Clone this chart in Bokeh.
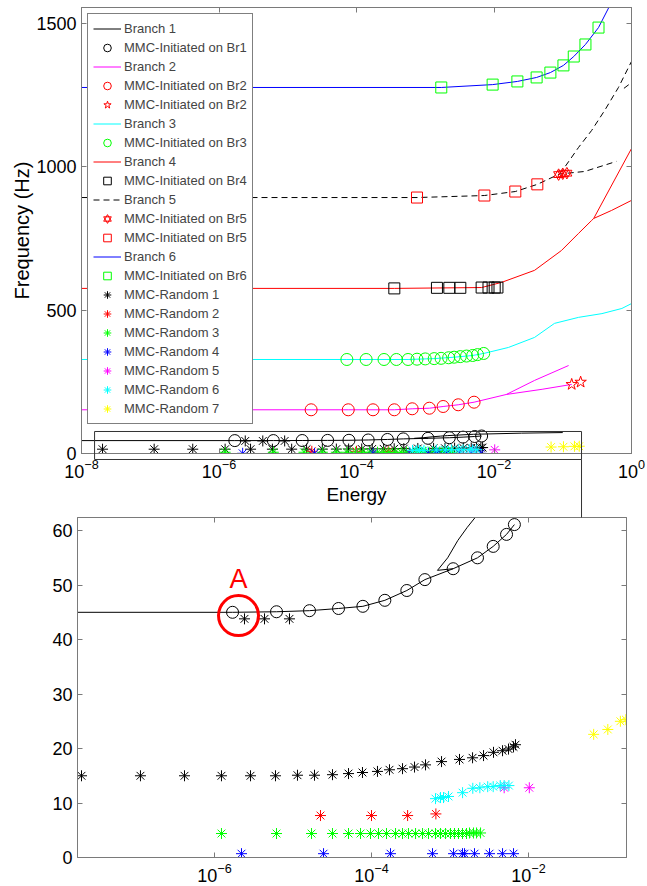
import math
from bokeh.plotting import figure
from bokeh.models import (LogAxis, LinearAxis, FixedTicker, Legend, LegendItem, Label, Range1d)
from bokeh.embed import file_html
from bokeh.resources import INLINE

NAN = float("nan")
FONT = "Liberation Sans"
AX = "#7a7a7a"

# ---------------- data (log10 of energy, frequency in Hz) ----------------
# Branch 1 (45 Hz branch) and its MMC-initiated points
br1_line_logE = [-8.0, -5.77, -5.21, -4.79, -4.42, -4.11, -3.83, -3.55, -3.32, -2.96, -2.65, -2.45, -2.28, -2.18,
                 NAN, -2.96, -3.16, -3.03, -2.90, -2.78, -2.68, -2.30, -1.60, -1.00]
br1_line_f = [45.0, 45.0, 45.1, 45.3, 45.7, 46.1, 47.2, 49.0, 51.0, 53.0, 55.0, 57.1, 59.3, 61.1,
              NAN, 53.0, 52.7, 55.0, 58.2, 60.6, 62.4, 67.0, 71.0, 73.0]
br1_pts_logE = [-5.77, -5.21, -4.79, -4.42, -4.11, -3.83, -3.55, -3.32, -2.96, -2.65, -2.45, -2.28, -2.18]
br1_pts_f = [45.0, 45.1, 45.3, 45.7, 46.1, 47.2, 49.0, 51.0, 53.0, 55.0, 57.1, 59.3, 61.1]

# Branch 2
br2_line_logE = [-8.0, -4.66, -4.12, -3.76, -3.45, -3.19, -2.94, -2.74, -2.52, -2.29, -1.82, -1.41, -0.915,
                 NAN, -1.82, -1.30, -0.87]
br2_line_f = [152.5, 152.5, 152.5, 152.5, 152.5, 156, 158, 164, 170, 179, 206, 255, 307,
              NAN, 206, 224, 241]
br2_circ_logE = [-4.66, -4.12, -3.76, -3.45, -3.19, -2.94, -2.74, -2.52, -2.29]
br2_circ_f = [152.5, 152.5, 152.5, 152.5, 156, 158, 164, 170, 179]
br2_star_logE = [-0.87, -0.74]
br2_star_f = [241, 249]

# Branch 3
br3_circ_logE = [-4.14, -3.86, -3.60, -3.42, -3.25, -3.12, -3.00, -2.87, -2.77, -2.66, -2.58, -2.49,
                 -2.40, -2.31, -2.24, -2.15]
br3_circ_f = [328, 328, 328, 328, 328, 329, 330, 331, 332, 334, 336, 338, 340, 342, 345, 349]
br3_line_logE = [-8.0, -4.14, -3.25, -2.87, -2.58, -2.31, -2.15, -1.79, -1.41, -1.12, -0.77, -0.43, -0.14, 0.0]
br3_line_f = [328, 328, 328, 331, 336, 342, 349, 370, 405, 454, 475, 488, 506, 523]

# Branch 4
br4_line_logE = [-8.0, -3.45, -2.18, -1.89, -1.41, -1.02, -0.77, -0.58, -0.55, 0.0, NAN, -0.55, -0.29, 0.0]
br4_line_f = [576, 576, 579, 597, 639, 708, 768, 813, 820, 1064, NAN, 820, 848, 883]
br4_sq_logE = [-3.45, -2.83, -2.65, -2.49, -2.18, -2.08, -1.99, -1.95]
br4_sq_f = [576, 578, 578, 578, 579, 579, 579, 579]

# Branch 5 (dashed)
br5_line_logE = [-8.0, -3.12, -2.14, -1.69, -1.37, -1.05, -0.68, -0.22,
                 NAN, -1.05, -0.974, -0.77, -0.58, -0.39, -0.19, 0.0, NAN, -0.11, 0.0]
br5_line_f = [893, 893, 900, 914, 939, 975, 984, 1019,
              NAN, 975, 998, 1068, 1127, 1197, 1277, 1368, NAN, 1274, 1294]
br5_hex_logE = [-1.06, -1.00, -0.94]
br5_hex_f = [973, 976, 978]
br5_sq_logE = [-3.12, -2.14, -1.69, -1.37]
br5_sq_f = [893, 900, 914, 939]

# Branch 6
br6_sq_logE = [-2.767, -2.02, -1.66, -1.38, -1.18, -0.99, -0.84, -0.67, -0.48]
br6_sq_f = [1277, 1287, 1298, 1312, 1329, 1354, 1385, 1427, 1486]
br6_line_logE = [-8.0, -2.767, -2.02, -1.66, -1.38, -1.18, -0.99, -0.84, -0.67, -0.48, -0.30]
br6_line_f = [1277, 1277, 1287, 1298, 1312, 1329, 1354, 1385, 1427, 1486, 1570]

# MMC random runs
r1_logE = [-7.694, -6.943, -6.382, -5.911, -5.541, -5.223, -4.943, -4.726, -4.497, -4.293, -4.115, -3.924,
           -3.771, -3.605, -3.452, -3.312, -3.108, -2.879, -2.713, -2.573, -2.446, -2.331, -2.255, -2.191,
           -2.166, -5.618, -5.363, -5.045]
r1_f = [15.0, 15.0, 15.0, 15.0, 15.0, 15.0, 15.1, 15.1, 15.2, 15.4, 15.6, 15.8, 16.1, 16.3, 16.6, 17.0,
        17.6, 18.0, 18.3, 18.7, 19.3, 19.6, 19.9, 20.3, 20.7, 43.8, 43.8, 43.8]
r2_logE = [-4.65, -4.00, -3.54, -3.18]
r2_f = [7.7, 7.7, 7.7, 8.0]
r3_logE = [-5.911, -5.21, -4.764, -4.497, -4.293, -4.14, -4.013, -3.911, -3.809, -3.694, -3.605, -3.529,
           -3.439, -3.35, -3.274, -3.185, -3.121, -3.057, -2.994, -2.943, -2.892, -2.841, -2.79, -2.752,
           -2.701, -2.662, -2.611]
r3_f = [4.4, 4.4, 4.4, 4.4, 4.4, 4.4, 4.4, 4.4, 4.4, 4.4, 4.4, 4.4, 4.4, 4.4, 4.4, 4.4, 4.4, 4.4,
        4.4, 4.4, 4.4, 4.4, 4.4, 4.5, 4.5, 4.5, 4.5]
r4_logE = [-5.656, -4.611, -3.758, -3.223, -2.955, -2.841, -2.815, -2.688, -2.497, -2.331, -2.191]
r4_f = [0.7, 0.7, 0.7, 0.7, 0.7, 0.7, 0.7, 0.7, 0.7, 0.7, 0.7]
r5_logE = [-2.31, -1.99]
r5_f = [12.8, 12.8]
r6_logE = [-3.185, -3.121, -3.083, -3.019, -2.84, -2.71, -2.62, -2.52, -2.45, -2.36, -2.31, -2.25]
r6_f = [10.8, 11.0, 11.0, 11.2, 11.9, 12.7, 12.8, 13.0, 13.0, 13.2, 13.2, 13.2]
r7_logE = [-1.17, -0.99, -0.83, -0.76]
r7_f = [22.6, 23.5, 25.0, 25.3]

# axes
main_xticks = [1e-8, 1e-6, 1e-4, 1e-2, 1.0]
main_yticks = [0, 500, 1000, 1500]
main_logx = (-8.0, 0.0)
main_yrange = (0, 1556)
inset_xticks = [1e-6, 1e-4, 1e-2]
inset_yticks = [0, 10, 20, 30, 40, 50, 60]
inset_logx = (-7.745, -0.752)
inset_yrange = (0, 62.4)
zoom_box_logE = (-7.81, -0.727)
zoom_box_f = (-20.9, 76.8)

# page geometry
W = 647
H1, H2 = 517, 369
B1 = dict(left=81, right=16, top=7, bottom=64)
B2 = dict(left=77, right=21, top=0, bottom=29)


def E(lst):
    return [10 ** v if v == v else NAN for v in lst]


def style_axis(ax, labels=True):
    ax.axis_line_color = AX
    ax.major_tick_line_color = AX
    ax.major_tick_in = 5
    ax.major_tick_out = 0
    ax.minor_tick_line_color = None
    ax.major_label_text_font = FONT
    ax.major_label_text_color = "black"
    if labels:
        ax.major_label_text_font_size = "18px"
        ax.major_label_standoff = 5
    else:
        ax.major_label_text_font_size = "1px"
        ax.major_label_text_alpha = 0
        ax.major_label_standoff = 0
    ax.axis_label_text_font = FONT
    ax.axis_label_text_font_size = "19px"
    ax.axis_label_text_font_style = "normal"
    ax.axis_label_text_color = "black"


BLACK, RED, GREEN, BLUE, MAG, CYAN, YEL = "#000000", "#FF0000", "#00FF00", "#0000FF", "#FF00FF", "#00FFFF", "#FFFF00"

# ---------------- main figure ----------------
p1 = figure(width=W, height=H1, x_axis_type="log",
            x_range=Range1d(10 ** main_logx[0], 10 ** main_logx[1]), y_range=Range1d(*main_yrange),
            output_backend="svg", toolbar_location=None,
            min_border_left=B1["left"], min_border_right=B1["right"],
            min_border_top=B1["top"], min_border_bottom=B1["bottom"])
p1.styles = {"position": "absolute", "left": "0px", "top": "0px"}
p1.grid.visible = False
p1.outline_line_color = AX
p1.xaxis.axis_label = "Energy"
p1.yaxis.axis_label = "Frequency (Hz)"
p1.xaxis.ticker = FixedTicker(ticks=main_xticks)
p1.yaxis.ticker = FixedTicker(ticks=main_yticks)
style_axis(p1.xaxis[0])
style_axis(p1.yaxis[0])
p1.xaxis.axis_label_standoff = 3
p1.yaxis.axis_label_standoff = 0
p1.yaxis.axis_label_text_font_size = "20px"
ta = LogAxis(ticker=FixedTicker(ticks=main_xticks))
style_axis(ta, labels=False)
p1.add_layout(ta, "above")
ra = LinearAxis(ticker=FixedTicker(ticks=main_yticks))
style_axis(ra, labels=False)
p1.add_layout(ra, "right")

LW = 1
l1 = p1.line(E(br1_line_logE), br1_line_f, color=BLACK, line_width=LW)
m1 = p1.scatter(E(br1_pts_logE), br1_pts_f, marker="circle", size=12, fill_color=None, line_color=BLACK)
l2 = p1.line(E(br2_line_logE), br2_line_f, color=MAG, line_width=LW)
m2a = p1.scatter(E(br2_circ_logE), br2_circ_f, marker="circle", size=12, fill_color=None, line_color=RED)
m2b = p1.scatter(E(br2_star_logE), br2_star_f, marker="star", size=12, fill_color=None, line_color=RED)
l3 = p1.line(E(br3_line_logE), br3_line_f, color=CYAN, line_width=LW)
m3 = p1.scatter(E(br3_circ_logE), br3_circ_f, marker="circle", size=12, fill_color=None, line_color=GREEN)
l4 = p1.line(E(br4_line_logE), br4_line_f, color=RED, line_width=LW)
m4 = p1.scatter(E(br4_sq_logE), br4_sq_f, marker="square", size=11, fill_color=None, line_color=BLACK)
l5 = p1.line(E(br5_line_logE), br5_line_f, color=BLACK, line_width=LW, line_dash="6 4")
m5a1 = p1.scatter(E(br5_hex_logE), br5_hex_f, marker="triangle", size=10, fill_color=None, line_color=RED)
m5a2 = p1.scatter(E(br5_hex_logE), br5_hex_f, marker="inverted_triangle", size=10, fill_color=None, line_color=RED)
m5b = p1.scatter(E(br5_sq_logE), br5_sq_f, marker="square", size=11, fill_color=None, line_color=RED)
l6 = p1.line(E(br6_line_logE), br6_line_f, color=BLUE, line_width=LW)
m6 = p1.scatter(E(br6_sq_logE), br6_sq_f, marker="square", size=11, fill_color=None, line_color=GREEN)

randoms = [(r1_logE, r1_f, BLACK), (r2_logE, r2_f, RED), (r3_logE, r3_f, GREEN), (r4_logE, r4_f, BLUE),
           (r5_logE, r5_f, MAG), (r6_logE, r6_f, CYAN), (r7_logE, r7_f, YEL)]
rr = []
for lx, fy, c in randoms:
    rr.append(p1.scatter(E(lx), fy, marker="asterisk", size=11, line_color=c, line_width=1))

items = [
    LegendItem(label="Branch 1", renderers=[l1]),
    LegendItem(label="MMC-Initiated on Br1", renderers=[m1]),
    LegendItem(label="Branch 2", renderers=[l2]),
    LegendItem(label="MMC-Initiated on Br2", renderers=[m2a]),
    LegendItem(label="MMC-Initiated on Br2", renderers=[m2b]),
    LegendItem(label="Branch 3", renderers=[l3]),
    LegendItem(label="MMC-Initiated on Br3", renderers=[m3]),
    LegendItem(label="Branch 4", renderers=[l4]),
    LegendItem(label="MMC-Initiated on Br4", renderers=[m4]),
    LegendItem(label="Branch 5", renderers=[l5]),
    LegendItem(label="MMC-Initiated on Br5", renderers=[m5a1, m5a2]),
    LegendItem(label="MMC-Initiated on Br5", renderers=[m5b]),
    LegendItem(label="Branch 6", renderers=[l6]),
    LegendItem(label="MMC-Initiated on Br6", renderers=[m6]),
] + [LegendItem(label="MMC-Random %d" % (i + 1), renderers=[r]) for i, r in enumerate(rr)]

legend = Legend(items=items, location="top_left", margin=6, padding=5, spacing=0,
                label_height=19, glyph_height=19, glyph_width=28, label_standoff=3,
                label_text_font=FONT, label_text_font_size="13px",
                border_line_color="black", border_line_width=1, background_fill_color="white",
                background_fill_alpha=1.0)
p1.add_layout(legend)

# ---------------- inset figure ----------------
p2 = figure(width=W, height=H2, x_axis_type="log",
            x_range=Range1d(10 ** inset_logx[0], 10 ** inset_logx[1]), y_range=Range1d(*inset_yrange),
            output_backend="svg", toolbar_location=None,
            min_border_left=B2["left"], min_border_right=B2["right"],
            min_border_top=B2["top"], min_border_bottom=B2["bottom"])
p2.styles = {"position": "absolute", "left": "0px", "top": "%dpx" % H1}
p2.grid.visible = False
p2.outline_line_color = AX
p2.xaxis.ticker = FixedTicker(ticks=inset_xticks)
p2.yaxis.ticker = FixedTicker(ticks=inset_yticks)
style_axis(p2.xaxis[0])
style_axis(p2.yaxis[0])
ta2 = LogAxis(ticker=FixedTicker(ticks=inset_xticks))
style_axis(ta2, labels=False)
p2.add_layout(ta2, "above")
ra2 = LinearAxis(ticker=FixedTicker(ticks=inset_yticks))
style_axis(ra2, labels=False)
p2.add_layout(ra2, "right")

p2.line(E(br1_line_logE), br1_line_f, color=BLACK, line_width=LW)
p2.scatter(E(br1_pts_logE), br1_pts_f, marker="circle", size=12, fill_color=None, line_color=BLACK)
for lx, fy, c in randoms:
    p2.scatter(E(lx), fy, marker="asterisk", size=11, line_color=c, line_width=1)

# "A" marker around the first Br1 point and the neighbouring random point
a_logE = (br1_pts_logE[0] + r1_logE[25]) / 2
a_f = (br1_pts_f[0] + r1_f[25]) / 2
p2.scatter([10 ** a_logE], [a_f], marker="circle", size=40, fill_color=None, line_color=RED, line_width=3)
p2.add_layout(Label(x=10 ** a_logE, y=a_f + 6.8, text="A", text_color=RED, text_font=FONT,
                    text_font_size="27px", text_align="center", text_baseline="middle"))

# ---------------- transparent overlay: zoom box + connector (main-plot data units) ----------------
fw1 = W - B1["left"] - B1["right"]
fh1 = H1 - B1["top"] - B1["bottom"]
px_per_dec = fw1 / (main_logx[1] - main_logx[0])
px_per_hz = fh1 / (main_yrange[1] - main_yrange[0])
ov_logx = (main_logx[0] - B1["left"] / px_per_dec, main_logx[0] + (W - B1["left"]) / px_per_dec)
ov_y = (main_yrange[0] - (H1 + H2 - B1["top"] - fh1) / px_per_hz, main_yrange[1] + B1["top"] / px_per_hz)
inset_top_f = main_yrange[0] - (H1 - B1["top"] - fh1 + B2["top"]) / px_per_hz

p3 = figure(width=W, height=H1 + H2, x_axis_type="log",
            x_range=Range1d(10 ** ov_logx[0], 10 ** ov_logx[1]), y_range=Range1d(*ov_y),
            x_axis_location=None, y_axis_location=None,
            output_backend="svg", toolbar_location=None,
            min_border_left=0, min_border_right=0, min_border_top=0, min_border_bottom=0,
            background_fill_alpha=0, border_fill_alpha=0, outline_line_color=None)
p3.grid.visible = False
p3.styles = {"position": "absolute", "left": "0px", "top": "0px", "pointer-events": "none"}
zl, zr = 10 ** zoom_box_logE[0], 10 ** zoom_box_logE[1]
p3.line([zl, zl, zr, zr, zl], [zoom_box_f[0], zoom_box_f[1], zoom_box_f[1], zoom_box_f[0], zoom_box_f[0]],
        color="#333333", line_width=1)
p3.line([zr, zr], [zoom_box_f[0], inset_top_f], color="#333333", line_width=1)

open("out.html", "w").write(file_html([p1, p2, p3], INLINE))
